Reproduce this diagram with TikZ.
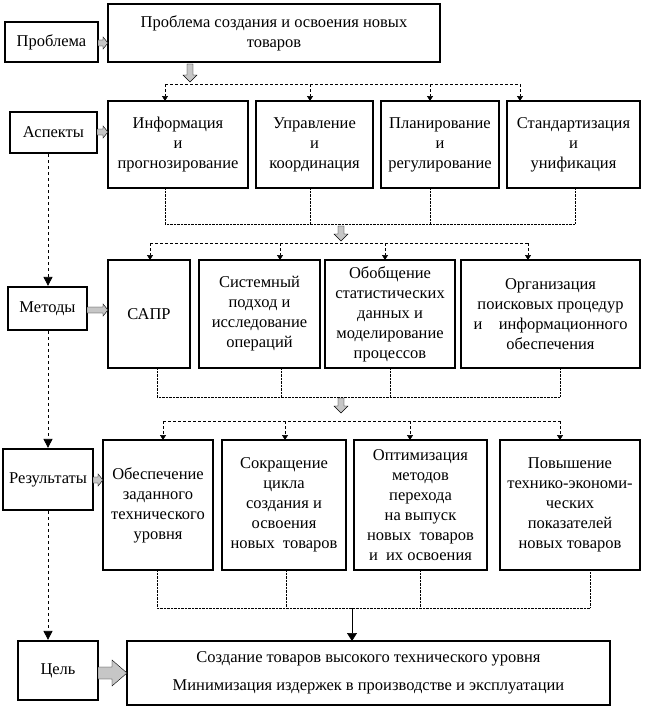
\documentclass[tikz,border=0pt]{standalone}
\usepackage{fontspec}
\setmainfont{Liberation Serif}
\usetikzlibrary{arrows.meta}

\tikzset{
  blk/.style={draw=black, line width=2.2pt, fill=white, align=center, inner sep=1pt, font=\fontsize{16.5}{20}\selectfont},
  garr/.style={fill=gray!45, draw=black, line width=0.4pt},
  bus/.style={densely dashed, line width=0.6pt},
  tap/.style={bus, -{Triangle[length=5pt,width=6pt]}},
  side/.style={dashed, line width=0.7pt, -{Triangle[length=9pt,width=9pt]}}
}
\newcommand{\bx}[6]{\node[blk, minimum width=#4-#2, minimum height=#5-#3] (#1) at ({(#2+#4)/2},{(#3+#5)/2}) {#6};}
% horizontal block arrow: x from, x to, y centre
\newcommand{\sidearr}[3]{\path[garr] (#1,#3-3) -- ({#2-5},#3-3) -- ({#2-5},#3-6) -- (#2,#3) -- ({#2-5},#3+6) -- ({#2-5},#3+3) -- (#1,#3+3) -- cycle;}
% vertical block arrow: x centre, y from, y to
\newcommand{\downarr}[3]{\path[garr] (#1-3,#2) -- (#1+3,#2) -- (#1+3,{#3-7}) -- (#1+7,{#3-7}) -- (#1,#3) -- (#1-7,{#3-7}) -- (#1-3,{#3-7}) -- cycle;}

\begin{document}
\begin{tikzpicture}[x=1pt, y=-1pt]
\useasboundingbox (0,0) rectangle (655,709);
% left column
\bx{lprob}{5}{22}{98}{62}{Проблема}
\bx{lasp}{10}{112}{97}{153}{Аспекты}
\bx{lmet}{8}{287}{87}{330}{Методы}
\bx{lres}{3}{449}{93}{510}{Результаты}
\bx{lgoal}{18}{641}{98}{700}{Цель}
% problem
\bx{prob}{108}{4}{440}{62}{Проблема создания и освоения новых\\товаров}
% aspects
\bx{a1}{108}{101}{248}{188}{Информация\\и\\прогнозирование}
\bx{a2}{256}{101}{373}{188}{Управление\\и\\координация}
\bx{a3}{381}{101}{499}{188}{Планирование\\и\\регулирование}
\bx{a4}{507}{101}{640}{188}{Стандартизация\\и\\унификация}
% methods
\bx{m1}{108}{260}{190}{368}{САПР}
\bx{m2}{199}{260}{320}{368}{Системный\\подход и\\исследование\\операций}
\bx{m3}{325}{260}{455}{368}{Обобщение\\статистических\\данных  и\\моделирование\\процессов}
\bx{m4}{461}{260}{640}{368}{Организация\\поисковых процедур\\и\quad информационного\\обеспечения}
% results
\bx{r1}{103}{440}{213}{570}{Обеспечение\\заданного\\технического\\уровня}
\bx{r2}{222}{440}{346}{570}{Сокращение\\цикла\\создания и\\освоения\\новых\ \ товаров}
\bx{r3}{354}{440}{487}{570}{Оптимизация\\методов\\перехода\\на выпуск\\новых\ \ товаров\\и\ \ их освоения}
\bx{r4}{500}{440}{640}{570}{Повышение\\технико-экономи-\\ческих\\показателей\\новых товаров}
% goal
\node[blk, minimum width=483pt, minimum height=64pt, font=\fontsize{16.5}{28}\selectfont] (goal) at (368.5,673)
  {Создание товаров высокого технического уровня\\Минимизация издержек в производстве и эксплуатации};

% side arrows
\sidearr{98}{108}{43}
\sidearr{97}{108}{132}
\sidearr{87}{108}{310}
\sidearr{93}{103}{480}
\path[garr] (98,667) -- (112,667) -- (112,660) -- (127,673) -- (112,686) -- (112,679) -- (98,679) -- cycle;

% left dashed chain
\draw[side] (lasp.south -| 48,0) -- (lmet.north -| 48,0);
\draw[side] (lmet.south -| 48,0) -- (lres.north -| 48,0);
\draw[side] (lres.south -| 48,0) -- (lgoal.north -| 48,0);

% problem -> aspects
\downarr{190}{64}{82}
\draw[bus] (165,84) -- (520,84);
\foreach \x in {165,310,430,520}
  \draw[tap] (\x,84) -- (\x,101);

% aspects -> methods
\draw[densely dotted] (165,188) -- (165,224) -- (575,224) -- (575,188);
\foreach \x in {310,430} \draw[densely dotted] (\x,188) -- (\x,224);
\downarr{341}{226}{241}
\draw[bus] (150,243) -- (528,243);
\foreach \x in {150,280,385,528}
  \draw[tap] (\x,243) -- (\x,260);

% methods -> results
\draw[densely dotted] (157,368) -- (157,397) -- (560,397) -- (560,368);
\foreach \x in {281,390} \draw[densely dotted] (\x,368) -- (\x,397);
\downarr{341}{398}{413}
\draw[bus] (163,421) -- (560,421);
\foreach \x in {163,285,410,560}
  \draw[tap] (\x,421) -- (\x,440);

% results -> goal
\draw[densely dotted] (157,570) -- (157,608) -- (590,608) -- (590,570);
\foreach \x in {286,420} \draw[densely dotted] (\x,570) -- (\x,608);
\draw[line width=0.6pt, -{Triangle[length=8pt,width=10pt]}] (352,608) -- (352,641);
\end{tikzpicture}
\end{document}
